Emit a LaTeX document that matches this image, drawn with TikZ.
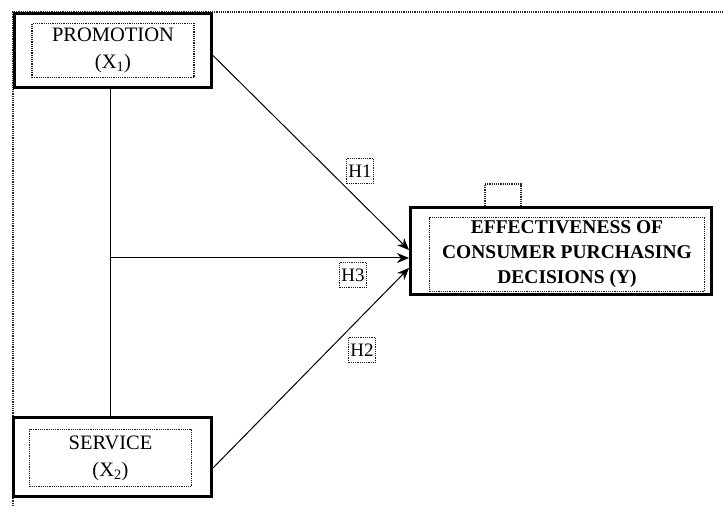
\documentclass[tikz,border=0pt]{standalone}
\usepackage{fontspec}
\setmainfont{Liberation Serif}
\usetikzlibrary{arrows.meta,calc}
\tikzstyle{outerbox} = [rectangle, draw=black, line width=3pt, fill=white]
\tikzstyle{innerbox} = [rectangle, draw=black!90, densely dotted, line width=1.2pt, align=center, font=\fontsize{20.5}{27}\selectfont]
\tikzstyle{hypbox} = [rectangle, draw=black!90, densely dotted, line width=1.2pt, minimum width=27pt, minimum height=25pt, inner sep=1pt, font=\fontsize{19}{19}\selectfont]
\tikzstyle{frame} = [densely dotted, line width=1.2pt, black!85]
\tikzstyle{link} = [line width=1pt]
\tikzstyle{arrow} = [line width=1pt,-{Stealth[length=12pt,width=10pt]}]
\begin{document}
\begin{tikzpicture}[x=1pt,y=1pt]
    \useasboundingbox (0,0) rectangle (723,506);

    % dotted frame behind the boxes
    \draw[frame] (13,0) |- (723,494);

    \node (promotion) [outerbox, minimum width=197pt, minimum height=74pt] at (113,455.5) {};
    \node (promotionlabel) [innerbox, minimum width=162pt, minimum height=54pt, text depth=4pt] at (promotion) {PROMOTION\\(X\textsubscript{1})};

    \node (service) [outerbox, minimum width=198pt, minimum height=79pt] at (112.5,49) {};
    \node (servicelabel) [innerbox, minimum width=162pt, minimum height=57pt] at (110.5,48) {SERVICE\\(X\textsubscript{2})};

    \node (effect) [outerbox, minimum width=301pt, minimum height=87pt] at (561,255) {};
    \node (effectlabel) [innerbox, minimum width=275pt, minimum height=70pt, font=\bfseries\fontsize{19.5}{25}\selectfont] at (567,251.5) {EFFECTIVENESS OF\\CONSUMER PURCHASING\\DECISIONS (Y)};

    % small tab on top of the Y box
    \draw[frame] ([xshift=76pt]effect.north west) |- ++(36pt,22pt) -- ++(0,-22pt);

    \coordinate (junction) at ([xshift=-3pt]promotion.south |- 0,248);

    \draw[link] ([xshift=-3pt]promotion.south) -- ([xshift=-3pt]promotion.south |- service.north);

    \draw[arrow] ([yshift=-5pt]promotion.east) -- ([yshift=1pt]effect.west);
    \draw[arrow] (junction) -- (junction -| effect.west);
    \draw[arrow] ([yshift=-11pt]service.east) -- ([yshift=-17pt]effect.west);

    \node (h1) [hypbox] at (360,335) {H1};
    \node (h3) [hypbox] at (353,231) {H3};
    \node (h2) [hypbox] at (362,156) {H2};

\end{tikzpicture}
\end{document}
